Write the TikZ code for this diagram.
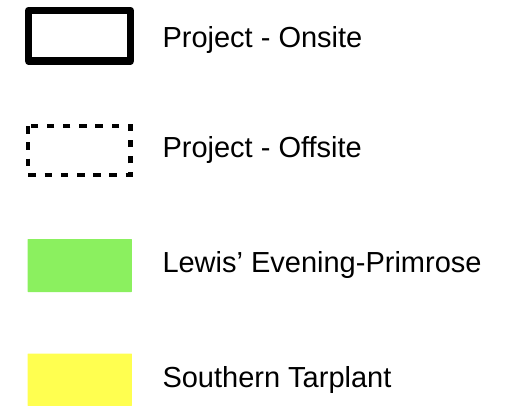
\documentclass[tikz,border=0pt]{standalone}
\usepackage{fontspec}
\setmainfont{Liberation Sans}
\definecolor{lepgreen}{RGB}{139,240,95}
\definecolor{tarpyellow}{RGB}{255,255,80}
\tikzset{
  onsite/.style={draw=black, line width=7.5pt, line join=round, fill=white},
  offsite/.style={draw=black, line width=4.2pt, dash pattern=on 7.5pt off 8.7pt, fill=white},
  legendtext/.style={anchor=base west, inner sep=0pt, font=\fontsize{29pt}{34pt}\selectfont}
}
\begin{document}
\begin{tikzpicture}[x=1pt,y=-1pt]
\useasboundingbox (0,0) rectangle (523,405);
\draw[onsite] (28.7,10.4) rectangle (130.3,61.2);
\node[legendtext] (t1) at (162.3,47) {Project - Onsite};
\draw[offsite] (28.2,126.2) rectangle (130.5,174.6);
\node[legendtext] (t2) at (162.3,157) {Project - Offsite};
\fill[lepgreen, rounded corners=0.5pt] (27.7,239) rectangle (131.8,292);
\node[legendtext] (t3) at (162.3,272) {Lewis’ Evening-Primrose};
\fill[tarpyellow, rounded corners=0.5pt] (27.7,353.5) rectangle (131.8,406);
\node[legendtext] (t4) at (162.3,387) {Southern Tarplant};
\end{tikzpicture}
\end{document}
